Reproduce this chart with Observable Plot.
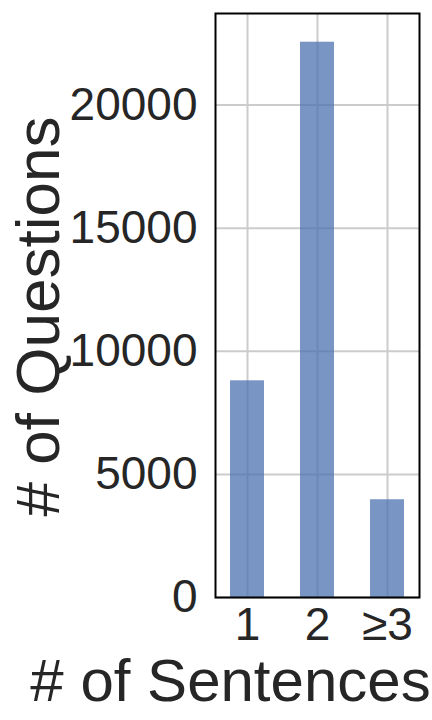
<!DOCTYPE html>
<html><head><meta charset="utf-8">
<script src="https://cdn.jsdelivr.net/npm/d3@7"></script>
<script src="https://cdn.jsdelivr.net/npm/@observablehq/plot@0.6"></script>
<style>body{margin:0;background:#fff}</style>
</head><body><div id="chart"></div>
<script>
const categories = ["1", "2", "≥3"];
const counts = [8800, 22550, 3970];
const yTicks = [0, 5000, 10000, 15000, 20000];
const xLabel = "# of Sentences";
const yLabel = "# of Questions";

const data = categories.map((c, i) => ({cat: c, n: counts[i]}));

const chart = Plot.plot({
  width: 432, height: 720,
  marginLeft: 215, marginRight: 13, marginTop: 13, marginBottom: 123,
  style: {fontFamily: "'Liberation Sans', Arial, sans-serif", color: "#262626", background: "#fff"},
  x: {domain: categories, paddingInner: 0.52, paddingOuter: 0.2, label: null},
  y: {domain: [0, 23716], label: null},
  marks: [
    Plot.gridY(yTicks, {stroke: "#cccccc", strokeOpacity: 1, strokeWidth: 2}),
    Plot.gridX(categories, {stroke: "#cccccc", strokeOpacity: 1, strokeWidth: 2}),
    Plot.barY(data, {x: "cat", y: "n", fill: "#4c72b0", fillOpacity: 0.75}),
    Plot.axisY(yTicks, {tickSize: 0, tickPadding: 18, fontSize: 46, label: null, fill: "#262626", tickFormat: d => String(d)}),
    Plot.axisX({tickSize: 0, tickPadding: 10, fontSize: 46, label: null, fill: "#262626"}),
    Plot.text([yLabel], {frameAnchor: "left", textAnchor: "middle", rotate: -90, dx: -157, dy: 11, fontSize: 62, lineAnchor: "bottom", fill: "#262626"}),
    Plot.text([xLabel], {frameAnchor: "bottom", textAnchor: "middle", dx: -87, dy: 103, fontSize: 60, lineAnchor: "bottom", fill: "#262626"}),
    Plot.frame({stroke: "black", strokeWidth: 2})
  ]
});
document.getElementById("chart").appendChild(chart);
</script>
</body></html>
